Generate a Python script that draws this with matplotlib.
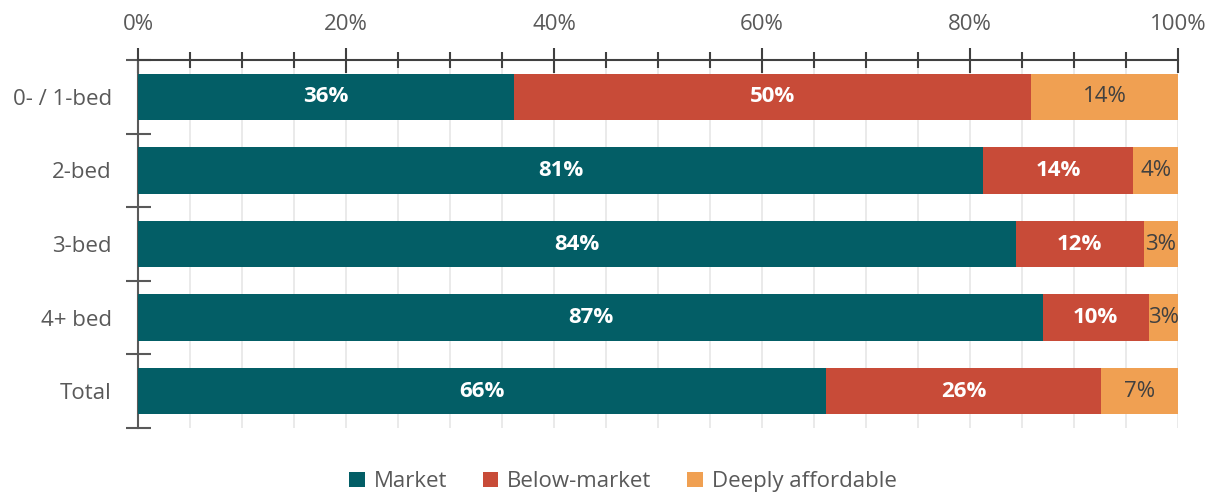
import numpy as np
import matplotlib.pyplot as plt
from matplotlib.ticker import MultipleLocator, PercentFormatter

plt.rcParams['font.family'] = ['Open Sans', 'DejaVu Sans']

categories = ["0- / 1-bed", "2-bed", "3-bed", "4+ bed", "Total"]
market = [36.2, 81.3, 84.4, 87.0, 66.2]
below_market = [49.7, 14.4, 12.3, 10.2, 26.4]
deeply_affordable = [14.1, 4.3, 3.3, 2.8, 7.4]

series = ["Market", "Below-market", "Deeply affordable"]
colors = ["#035E66", "#C84B38", "#F0A052"]
label_colors = ["white", "white", "#404040"]

fig = plt.figure(figsize=(12.14, 4.94), dpi=100)
ax = fig.add_axes([0.1137, 0.1336, 0.8566, 0.7449])

y = np.arange(len(categories))
left = np.zeros(len(categories))
for name, vals, col, lc in zip(series, [market, below_market, deeply_affordable], colors, label_colors):
    bars = ax.barh(y, vals, left=left, height=0.63, color=col, label=name, zorder=3)
    ax.bar_label(bars, labels=[f"{v:.0f}%" for v in vals], label_type="center",
                 color=lc, fontsize=16, fontweight="bold" if lc == "white" else "normal", zorder=4)
    left += np.array(vals)

ax.set_xlim(0, 100)
ax.set_ylim(len(categories) - 0.5, -0.5)

# x axis on top
ax.xaxis.tick_top()
ax.xaxis.set_major_locator(MultipleLocator(20))
ax.xaxis.set_minor_locator(MultipleLocator(5))
ax.xaxis.set_major_formatter(PercentFormatter(decimals=0))
ax.tick_params(axis="x", which="major", direction="inout", length=18, width=1.5,
               color="#404040", labelsize=16, labelcolor="#595959", pad=9)
ax.tick_params(axis="x", which="minor", direction="inout", length=12, width=1.5, color="#404040")
ax.grid(axis="x", which="both", color="#E6E6E6", linewidth=1.2, zorder=0)

# y axis
ax.set_yticks(y)
ax.set_yticklabels(categories)
ax.set_yticks(np.arange(len(categories) + 1) - 0.5, minor=True)
ax.tick_params(axis="y", which="major", length=0, labelsize=16, labelcolor="#595959", pad=19)
ax.tick_params(axis="y", which="minor", direction="inout", length=18, width=1.5, color="#595959")

for s in ["right", "bottom"]:
    ax.spines[s].set_visible(False)
ax.spines["top"].set_color("#404040")
ax.spines["top"].set_linewidth(1.5)
ax.spines["left"].set_color("#595959")
ax.spines["left"].set_linewidth(1.5)

leg = fig.legend(loc="center", bbox_to_anchor=(0.513, 0.025), ncol=3, frameon=False,
                 fontsize=16, handlelength=0.7, handleheight=0.7, handletextpad=0.4,
                 columnspacing=1.6)
for t in leg.get_texts():
    t.set_color("#595959")

fig.savefig("out.png", dpi=100)
